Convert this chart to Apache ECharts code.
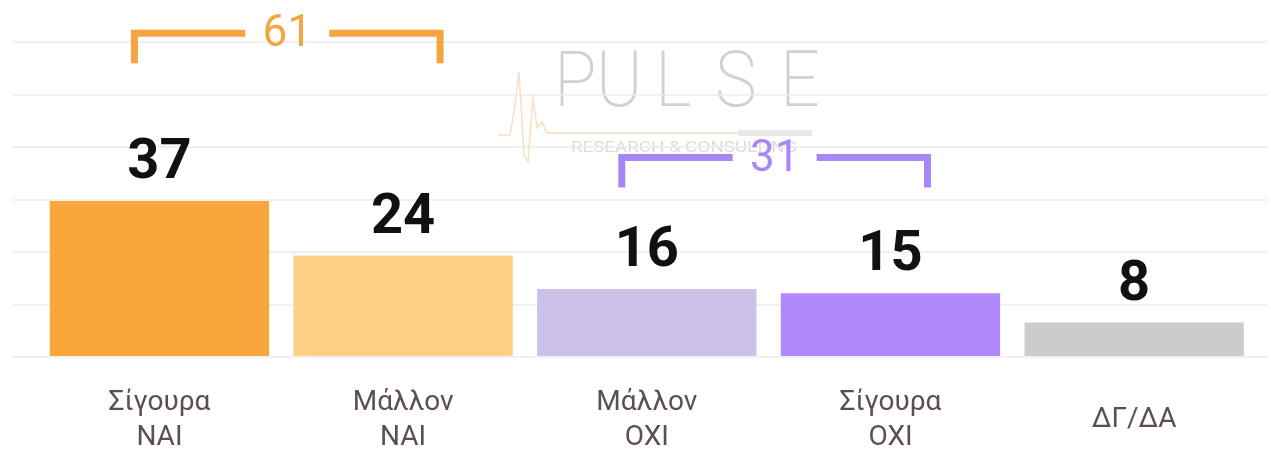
<!DOCTYPE html>
<html>
<head>
<meta charset="utf-8">
<script src="https://cdn.jsdelivr.net/npm/echarts@6/dist/echarts.min.js"></script>
<style>
  html, body { margin: 0; padding: 0; background: #ffffff; }
  #chart { width: 1271px; height: 455px; }
</style>
</head>
<body>
<div id="chart"></div>
<script>
// data
var categories = ['Σίγουρα\nΝΑΙ', 'Μάλλον\nΝΑΙ', 'Μάλλον\nΟΧΙ', 'Σίγουρα\nΟΧΙ', 'ΔΓ/ΔΑ'];
var values = [37, 24, 16, 15, 8];
var bracketGroups = [[0, 1], [2, 3]];

// styles
var barColors = ['#f9a63d', '#fdcf87', '#cdc1ea', '#b188fa', '#cccccc'];
var bracketColors = ['#f6a53e', '#a986f6'];
var bracketLevels = [77.1, 47.4];

var bracketData = bracketGroups.map(function (g, i) {
  var total = 0;
  for (var k = g[0]; k <= g[1]; k++) total += values[k];
  return [g[0], g[1], total, bracketLevels[i], i];
});

// watermark letters (decoration only)
function letter(ch, x) {
  return {
    type: 'text', x: x, y: 47, scaleX: 0.9,
    style: { text: ch, font: '200 78px Roboto', fill: '#c9c9c9', opacity: 0.85 }
  };
}

var chart = echarts.init(document.getElementById('chart'));

chart.setOption({
  backgroundColor: '#ffffff',
  animation: false,
  grid: [
    { left: 13, right: 4, top: 42, bottom: 98 },
    { left: 37.6, right: 15, top: 42, bottom: 98 }
  ],
  xAxis: [
    { gridIndex: 0, type: 'value', min: 0, max: 1, show: false },
    {
      gridIndex: 1,
      type: 'category',
      data: categories,
      axisLine: { show: false },
      axisTick: { show: false },
      axisLabel: {
        margin: 64,
        verticalAlign: 'middle',
        fontFamily: 'Roboto',
        fontSize: 28,
        lineHeight: 35,
        color: '#5d4f4f'
      }
    }
  ],
  yAxis: [
    {
      gridIndex: 0,
      type: 'value',
      min: 0,
      max: 75,
      interval: 12.5,
      axisLine: { show: false },
      axisTick: { show: false },
      axisLabel: { show: false },
      splitLine: { lineStyle: { color: '#ebebeb', width: 1.5 } }
    },
    {
      gridIndex: 1,
      type: 'value',
      min: 0,
      max: 75,
      interval: 12.5,
      show: false
    }
  ],
  graphic: [
    {
      type: 'group',
      z: 1,
      silent: true,
      children: [
        {
          type: 'polyline',
          shape: { points: [[498, 135], [510, 135], [514, 112], [519, 72], [524, 155], [528, 162], [533, 98], [537, 128], [542, 122], [547, 133], [738, 133]] },
          style: { stroke: '#f6c99a', lineWidth: 1.5, fill: null, opacity: 0.6 }
        },
        { type: 'rect', shape: { x: 738, y: 130, width: 74, height: 6 }, style: { fill: '#dddddd', opacity: 0.7 } },
        letter('P', 554),
        letter('U', 596),
        letter('L', 655),
        letter('S', 715),
        letter('E', 780),
        { type: 'text', x: 684, y: 141, scaleX: 1.25, style: { text: 'RESEARCH & CONSULTING', font: '15px Roboto', fill: '#d3d3d3', align: 'center', opacity: 0.8 } }
      ]
    }
  ],
  series: [
    {
      type: 'bar',
      xAxisIndex: 1,
      yAxisIndex: 1,
      barCategoryGap: '10%',
      z: 3,
      data: values.map(function (v, i) {
        return { value: v, itemStyle: { color: barColors[i] } };
      }),
      label: {
        show: true,
        position: 'top',
        distance: 9,
        fontFamily: 'Roboto',
        fontWeight: 'bold',
        fontSize: 56,
        color: '#111111'
      }
    },
    {
      type: 'custom',
      xAxisIndex: 1,
      yAxisIndex: 1,
      z: 4,
      encode: { x: [0, 1], y: 3 },
      data: bracketData,
      renderItem: function (params, api) {
        var level = api.value(3);
        var p1 = api.coord([api.value(0), level]);
        var p2 = api.coord([api.value(1), level]);
        var color = bracketColors[api.value(4)];
        var x1 = p1[0] - 25;
        var x2 = p2[0] + 37;
        var y = p1[1];
        var mid = (x1 + x2) / 2;
        var lineStyle = { stroke: color, lineWidth: 7, fill: null, lineJoin: 'miter', lineCap: 'butt' };
        return {
          type: 'group',
          children: [
            { type: 'polyline', shape: { points: [[x1, y + 30], [x1, y], [mid - 42, y]] }, style: lineStyle },
            { type: 'polyline', shape: { points: [[mid + 42, y], [x2, y], [x2, y + 30]] }, style: lineStyle },
            {
              type: 'text',
              x: mid,
              y: y + 2,
              style: {
                text: String(api.value(2)),
                font: '44px Roboto',
                fill: color,
                align: 'center',
                verticalAlign: 'middle'
              }
            }
          ]
        };
      }
    }
  ]
});
</script>
</body>
</html>
